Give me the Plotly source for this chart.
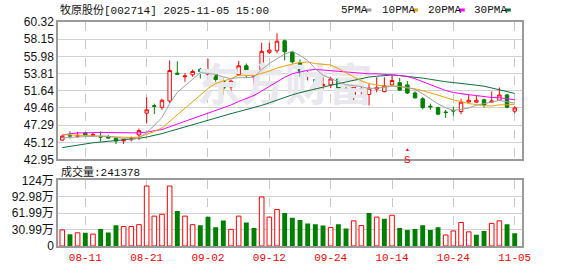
import plotly.graph_objects as go

# ---------------- data ----------------
dates = [
    "2025-08-06", "2025-08-07", "2025-08-08", "2025-08-11", "2025-08-12", "2025-08-13", "2025-08-14", "2025-08-15",
    "2025-08-18", "2025-08-19", "2025-08-20", "2025-08-21", "2025-08-22", "2025-08-25", "2025-08-26", "2025-08-27",
    "2025-08-28", "2025-08-29", "2025-09-01", "2025-09-02", "2025-09-03", "2025-09-04", "2025-09-05", "2025-09-08",
    "2025-09-09", "2025-09-10", "2025-09-11", "2025-09-12", "2025-09-15", "2025-09-16", "2025-09-17", "2025-09-18",
    "2025-09-19", "2025-09-22", "2025-09-23", "2025-09-24", "2025-09-25", "2025-09-26", "2025-09-29", "2025-09-30",
    "2025-10-09", "2025-10-10", "2025-10-13", "2025-10-14", "2025-10-15", "2025-10-16", "2025-10-17", "2025-10-20",
    "2025-10-21", "2025-10-22", "2025-10-23", "2025-10-24", "2025-10-27", "2025-10-28", "2025-10-29", "2025-10-30",
    "2025-10-31", "2025-11-03", "2025-11-04", "2025-11-05",
]
open_ = [45.40, 45.98, 45.88, 46.30, 45.96, 45.85, 45.82, 45.62, 45.30, 45.45,
         46.05, 48.80, 49.75, 49.53, 50.34, 53.86, 53.40, 53.65, 54.34, 53.72,
         53.77, 52.93, 52.13, 53.65, 54.79, 53.38, 54.14, 56.49, 56.68, 57.95,
         56.49, 55.19, 53.45, 53.05, 52.30, 52.37, 53.13, 51.92, 51.00, 51.75,
         51.16, 51.85, 51.52, 52.37, 52.65, 52.37, 51.35, 50.62, 49.68, 49.50,
         48.95, 49.15, 49.01, 50.22, 50.19, 50.50, 50.19, 50.43, 51.10, 49.05]
high = [46.00, 46.50, 46.45, 46.40, 46.40, 46.50, 46.05, 45.70, 45.50, 45.85,
        46.85, 50.83, 50.00, 50.63, 55.47, 55.35, 53.86, 54.30, 54.50, 55.68,
        55.00, 53.25, 53.05, 55.40, 55.07, 54.07, 57.70, 57.70, 58.91, 58.10,
        56.68, 55.59, 54.14, 53.10, 53.34, 53.37, 53.25, 52.37, 52.37, 52.50,
        52.53, 53.34, 53.34, 53.58, 53.25, 52.85, 51.56, 50.83, 50.00, 49.62,
        49.20, 49.62, 50.62, 51.16, 51.04, 50.62, 51.56, 52.04, 51.23, 49.70]
low = [45.30, 45.60, 45.70, 45.95, 45.80, 45.20, 45.60, 44.90, 44.92, 45.25,
       45.40, 47.50, 48.70, 49.22, 50.10, 53.65, 52.77, 53.40, 53.17, 53.05,
       52.77, 51.16, 51.23, 53.53, 53.25, 52.37, 54.07, 56.28, 56.37, 55.47,
       55.07, 53.37, 52.93, 51.84, 51.84, 51.96, 51.56, 51.56, 50.22, 51.15,
       49.78, 51.44, 51.44, 52.25, 51.64, 51.23, 50.62, 49.29, 49.22, 48.53,
       48.20, 48.49, 48.68, 50.10, 50.10, 49.53, 50.10, 50.34, 49.41, 48.80]
close = [45.90, 45.92, 45.96, 46.05, 46.08, 45.78, 45.66, 45.28, 45.45, 45.58,
         46.60, 49.22, 49.66, 50.43, 54.19, 53.72, 53.50, 54.07, 54.07, 53.80,
         53.05, 51.96, 52.85, 54.79, 53.74, 53.50, 56.61, 56.77, 57.90, 56.56,
         55.28, 53.98, 53.58, 52.65, 52.42, 53.13, 51.96, 51.71, 52.13, 51.90,
         51.96, 52.05, 52.25, 52.93, 51.71, 51.35, 50.74, 49.50, 49.60, 48.68,
         48.88, 49.08, 50.19, 50.43, 50.43, 49.82, 50.34, 51.10, 49.56, 49.46]

ma5 = [45.70, 45.75, 45.80, 45.88, 45.94, 45.92, 45.88, 45.72, 45.60, 45.50,
       45.65, 46.36, 47.25, 48.27, 50.00, 51.44, 52.29, 53.18, 53.91, 53.83,
       53.70, 53.39, 53.15, 53.29, 53.28, 53.37, 54.30, 55.08, 55.70, 56.27,
       56.62, 56.10, 55.46, 54.41, 53.59, 53.16, 52.76, 52.38, 52.28, 52.15,
       51.91, 51.94, 52.05, 52.21, 52.19, 52.07, 51.80, 51.25, 50.58, 49.97,
       49.48, 49.15, 49.29, 49.45, 49.80, 49.99, 50.24, 50.42, 50.24, 50.05]
ma10 = [46.10, 46.05, 46.00, 45.95, 45.90, 45.86, 45.82, 45.78, 45.75, 45.72,
        45.78, 46.12, 46.49, 46.93, 47.75, 48.54, 49.33, 50.22, 51.09, 51.91,
        52.57, 52.84, 53.16, 53.60, 53.55, 53.53, 53.84, 54.11, 54.50, 54.77,
        55.00, 55.20, 55.27, 55.06, 54.93, 54.89, 54.43, 53.92, 53.35, 52.87,
        52.54, 52.35, 52.21, 52.24, 52.17, 51.99, 51.87, 51.65, 51.39, 51.08,
        50.77, 50.47, 50.27, 50.02, 49.89, 49.74, 49.70, 49.86, 49.85, 49.93]
ma20 = [46.00, 46.20, 46.30, 46.35, 46.37, 46.37, 46.36, 46.33, 46.30, 46.30,
        46.30, 46.41, 46.55, 46.73, 47.09, 47.43, 47.76, 48.12, 48.48, 48.82,
        49.18, 49.48, 49.83, 50.27, 50.65, 51.04, 51.59, 52.17, 52.79, 53.34,
        53.78, 54.02, 54.22, 54.33, 54.24, 54.21, 54.14, 54.02, 53.92, 53.82,
        53.77, 53.77, 53.74, 53.65, 53.55, 53.44, 53.15, 52.78, 52.37, 51.98,
        51.66, 51.41, 51.24, 51.13, 51.03, 50.86, 50.78, 50.75, 50.62, 50.50]
ma30 = [44.45, 44.62, 44.80, 44.95, 45.06, 45.15, 45.23, 45.31, 45.40, 45.50,
        45.62, 45.78, 45.98, 46.22, 46.50, 46.78, 47.08, 47.38, 47.68, 47.98,
        48.25, 48.48, 48.74, 49.00, 49.24, 49.46, 49.78, 50.11, 50.48, 50.80,
        51.12, 51.39, 51.64, 51.86, 52.08, 52.32, 52.53, 52.75, 52.98, 53.19,
        53.37, 53.46, 53.55, 53.63, 53.55, 53.47, 53.38, 53.23, 53.08, 52.91,
        52.77, 52.67, 52.58, 52.44, 52.33, 52.21, 52.00, 51.81, 51.53, 51.29]

# volume in 万 (10k shares); last value 241378 -> 24.1378万
volume = [30.3, 22.0, 24.9, 24.9, 22.5, 32.0, 25.5, 39.2, 36.8, 36.8,
          40.3, 113.3, 56.4, 59.9, 113.3, 65.9, 56.4, 40.3, 39.2, 55.2,
          35.6, 48.1, 31.4, 56.4, 44.5, 33.8, 92.6, 54.6, 68.8, 62.3,
          53.4, 49.2, 42.7, 40.9, 38.6, 35.0, 40.9, 33.2, 47.5, 38.6,
          62.3, 54.6, 51.6, 58.1, 33.8, 30.3, 32.0, 39.2, 30.3, 35.6,
          20.8, 28.5, 44.5, 26.7, 21.4, 28.5, 42.7, 47.5, 40.9, 24.1378]
# 1 = red (up) bar, 0 = green (down) bar, as drawn in the chart
vol_up = [1, 0, 1, 0, 1, 0, 0, 0, 1, 1,
          1, 1, 1, 1, 1, 0, 1, 1, 0, 0,
          0, 0, 1, 1, 0, 0, 1, 1, 1, 0,
          0, 0, 0, 0, 0, 1, 0, 0, 1, 1,
          0, 1, 0, 1, 0, 0, 0, 0, 0, 0,
          1, 1, 1, 1, 0, 0, 1, 1, 0, 0]

price_ticks = [42.95, 45.12, 47.29, 49.46, 51.64, 53.81, 55.98, 58.15, 60.32]
vol_ticks = [0, 30.99, 61.99, 92.98, 123.97]
vol_tick_labels = ["0", "30.99万", "61.99万", "92.98万", "124万"]
date_tick_labels = ["08-11", "08-21", "09-02", "09-12", "09-24", "10-14", "10-24", "11-05"]
last_volume_text = "241378"
title_text = "牧原股份[002714] 2025-11-05 15:00"
signal_date = "2025-10-16"

# ---------------- style / layout ----------------
RED = "#ff0000"
GREEN = "#008000"
C_MA5, C_MA10, C_MA20, C_MA30 = "#a0a0a0", "#f0a000", "#ff00ff", "#0b6e3a"
GRID = "#d2d2d2"
BORDER = "#9a9a9a"
MONO = "Liberation Mono, Noto Sans CJK SC, monospace"
SANS = "Liberation Sans, Noto Sans CJK SC, sans-serif"

W_PX, H_PX = 578, 276
L, R, T, B = 56, 522, 22, 255
PW, PH = R - L, B - T
PRICE_BOTTOM_PX = 165


def pxx(x):
    return (x - L) / PW


def pxy(y):
    return (B - y) / PH


def price_at(ypix):
    lo, hi = price_ticks[0], price_ticks[-1]
    return hi - (ypix - T) * (hi - lo) / (PRICE_BOTTOM_PX - T)


tick_dates = [d for d in dates if d[5:] in date_tick_labels]
n = len(dates)

fig = go.Figure()

# faint watermark behind the candles
fig.add_trace(go.Scatter(
    x=[dates[29]], y=[51.75], mode="text", text=["<b>东方财富</b>"],
    textfont=dict(size=44, color="#e8e8ee", family="Noto Sans CJK SC"),
    hoverinfo="skip", showlegend=False, xaxis="x", yaxis="y"))

fig.add_trace(go.Candlestick(
    x=dates, open=open_, high=high, low=low, close=close,
    increasing=dict(line=dict(color=RED, width=1), fillcolor="#ffffff"),
    decreasing=dict(line=dict(color=GREEN, width=1), fillcolor=GREEN),
    whiskerwidth=0, showlegend=False, hoverinfo="skip", xaxis="x", yaxis="y"))

for vals, col in [(ma30, C_MA30), (ma20, C_MA20), (ma10, C_MA10), (ma5, C_MA5)]:
    fig.add_trace(go.Scatter(x=dates, y=vals, mode="lines",
                             line=dict(color=col, width=1), showlegend=False,
                             hoverinfo="skip", xaxis="x", yaxis="y"))

up_x = [d for d, u in zip(dates, vol_up) if u]
up_v = [v for v, u in zip(volume, vol_up) if u]
dn_x = [d for d, u in zip(dates, vol_up) if not u]
dn_v = [v for v, u in zip(volume, vol_up) if not u]
fig.add_trace(go.Bar(x=up_x, y=up_v, width=0.6,
                     marker=dict(color="#ffffff", line=dict(color=RED, width=1)),
                     showlegend=False, hoverinfo="skip", xaxis="x2", yaxis="y2"))
fig.add_trace(go.Bar(x=dn_x, y=dn_v, width=0.64,
                     marker=dict(color=GREEN, line=dict(color=GREEN, width=0)),
                     showlegend=False, hoverinfo="skip", xaxis="x2", yaxis="y2"))

xr = [-0.56, n - 1 + 0.95]
common_x = dict(type="category", categoryorder="array", categoryarray=dates,
                range=xr, tickvals=tick_dates, ticktext=date_tick_labels,
                showgrid=True, gridcolor="#c8c8c8", griddash="dash", gridwidth=1,
                showline=True, mirror=True, linecolor=BORDER, linewidth=1.5,
                zeroline=False, ticks="", fixedrange=True)

fig.update_layout(
    width=W_PX, height=H_PX,
    margin=dict(l=L, r=W_PX - R, t=T, b=H_PX - B, pad=0),
    paper_bgcolor="#ffffff", plot_bgcolor="#ffffff",
    showlegend=False, hovermode=False, boxgap=0.36, bargap=0.3,
    xaxis=dict(domain=[0, 1], anchor="y", showticklabels=False,
               rangeslider=dict(visible=False), **common_x),
    xaxis2=dict(domain=[0, 1], anchor="y2", matches="x", showticklabels=True,
                tickfont=dict(family=MONO, size=11, color=RED), **common_x),
    yaxis=dict(domain=[pxy(PRICE_BOTTOM_PX), 1], range=[price_ticks[0], price_ticks[-1]],
               tickvals=price_ticks, ticktext=[f"{v:.2f}" for v in price_ticks],
               tickfont=dict(family=SANS, size=12, color="#111111"),
               showgrid=True, gridcolor=GRID, gridwidth=1, zeroline=False,
               showline=True, mirror=True, linecolor=BORDER, linewidth=1.5,
               ticks="", fixedrange=True),
    yaxis2=dict(domain=[0, pxy(186.7)], range=[0, vol_ticks[-1]],
                tickvals=vol_ticks, ticktext=vol_tick_labels,
                tickfont=dict(family=SANS, size=12, color="#111111"),
                showgrid=True, gridcolor=GRID, gridwidth=1, zeroline=False,
                showline=True, mirror=True, linecolor=BORDER, linewidth=1.5,
                ticks="", fixedrange=True),
)

annotations = [
    dict(xref="paper", yref="paper", x=pxx(56), y=pxy(9), xanchor="left", yanchor="middle",
         text=title_text, showarrow=False, font=dict(family=MONO, size=11, color="#111111")),
    dict(xref="paper", yref="paper", x=pxx(57), y=pxy(178), xanchor="left", yanchor="middle",
         text="成交量:" + last_volume_text, showarrow=False,
         font=dict(family=MONO, size=11, color="#111111")),
    dict(xref="x", yref="y", x=signal_date, y=price_at(158.5), yanchor="top",
         text="S", showarrow=False, borderpad=0,
         font=dict(family=MONO, size=11, color=RED)),
    dict(xref="x", yref="y", x=signal_date, y=price_at(158.5), yanchor="bottom",
         text="▲", showarrow=False, borderpad=0,
         font=dict(size=5, color=RED)),
]
shapes = []
legend_items = [("5PMA", 338.7, 365.3, C_MA5), ("10PMA", 379.7, 412.0, C_MA10),
                ("20PMA", 425.7, 459.0, C_MA20), ("30PMA", 471.7, 505.3, C_MA30)]
for label, tx, dx, col in legend_items:
    annotations.append(dict(xref="paper", yref="paper", x=pxx(tx), y=pxy(9),
                            xanchor="left", yanchor="middle", text=label, showarrow=False,
                            font=dict(family=MONO, size=11, color="#111111")))
    shapes.append(dict(type="line", xref="paper", yref="paper", x0=pxx(dx), x1=pxx(dx + 5.5),
                       y0=pxy(9.5), y1=pxy(9.5), line=dict(color=col, width=3)))

fig.update_layout(annotations=annotations, shapes=shapes)

fig.write_html("out.html")
